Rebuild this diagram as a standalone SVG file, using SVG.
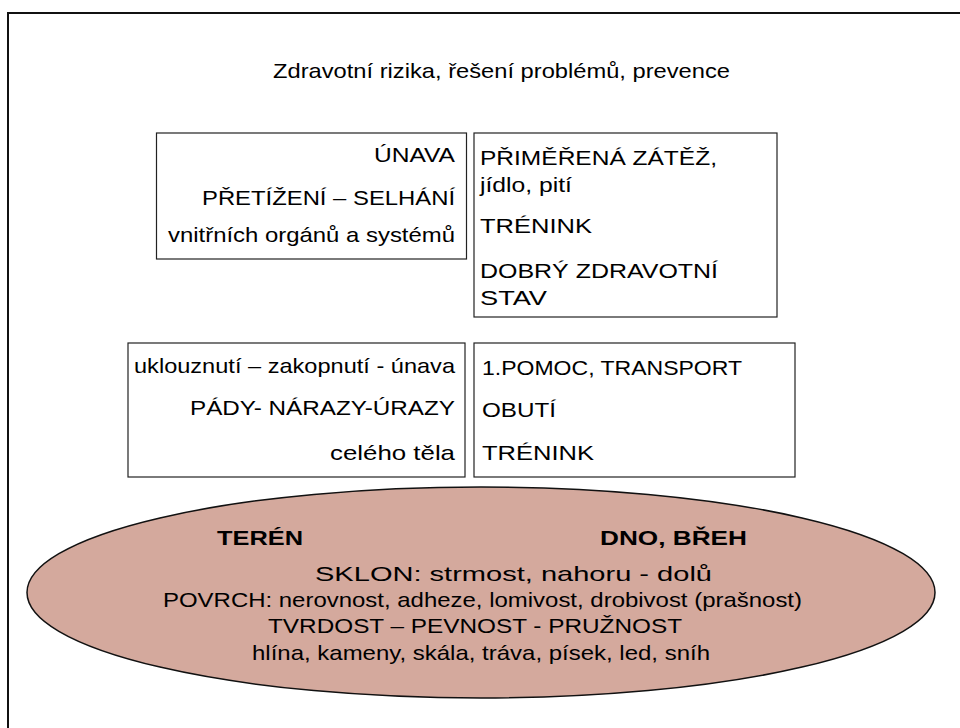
<svg xmlns="http://www.w3.org/2000/svg" width="960" height="728" viewBox="0 0 960 728">
  <style>
    text { font-family: "Liberation Sans", Arial, sans-serif; font-size: 21px; fill: #000; }
    .b { font-weight: bold; }
    .box { fill: #fff; stroke: #222; stroke-width: 1.2; }
    .frame { fill: none; stroke: #111; stroke-width: 2; }
  </style>
  <rect width="960" height="728" fill="#fff"/>
  <path class="frame" d="M8 728 V13 H960"/>

  <g id="title">
    <text x="273" y="78" textLength="457" lengthAdjust="spacingAndGlyphs">Zdravotní rizika, řešení problémů, prevence</text>
  </g>

  <g id="node-rizika-organy">
    <rect class="box" x="156.5" y="133" width="310" height="126"/>
    <text x="374" y="162" textLength="81" lengthAdjust="spacingAndGlyphs">ÚNAVA</text>
    <text x="202" y="205" textLength="253" lengthAdjust="spacingAndGlyphs">PŘETÍŽENÍ – SELHÁNÍ</text>
    <text x="168" y="242" textLength="287" lengthAdjust="spacingAndGlyphs">vnitřních orgánů a systémů</text>
  </g>

  <g id="node-prevence-organy">
    <rect class="box" x="474" y="133" width="303" height="184"/>
    <text x="480" y="165" textLength="237" lengthAdjust="spacingAndGlyphs">PŘIMĚŘENÁ ZÁTĚŽ,</text>
    <text x="480" y="192" textLength="92" lengthAdjust="spacingAndGlyphs">jídlo, pití</text>
    <text x="480" y="233" textLength="112" lengthAdjust="spacingAndGlyphs">TRÉNINK</text>
    <text x="480" y="278" textLength="238" lengthAdjust="spacingAndGlyphs">DOBRÝ ZDRAVOTNÍ</text>
    <text x="480" y="305" textLength="67" lengthAdjust="spacingAndGlyphs">STAV</text>
  </g>

  <g id="node-rizika-telo">
    <rect class="box" x="128" y="343" width="337" height="134"/>
    <text x="134" y="373" textLength="321" lengthAdjust="spacingAndGlyphs">uklouznutí – zakopnutí - únava</text>
    <text x="190" y="415" textLength="265" lengthAdjust="spacingAndGlyphs">PÁDY- NÁRAZY-ÚRAZY</text>
    <text x="330" y="460" textLength="125" lengthAdjust="spacingAndGlyphs">celého těla</text>
  </g>

  <g id="node-prevence-telo">
    <rect class="box" x="474" y="343" width="321" height="134"/>
    <text x="482" y="375" textLength="260" lengthAdjust="spacingAndGlyphs">1.POMOC, TRANSPORT</text>
    <text x="482" y="417" textLength="74" lengthAdjust="spacingAndGlyphs">OBUTÍ</text>
    <text x="482" y="460" textLength="112" lengthAdjust="spacingAndGlyphs">TRÉNINK</text>
  </g>

  <g id="node-teren">
    <ellipse cx="481" cy="592.5" rx="454" ry="105.5" fill="#D4A99D" stroke="#111" stroke-width="1.5"/>
    <text class="b" x="217" y="545" textLength="86" lengthAdjust="spacingAndGlyphs">TERÉN</text>
    <text class="b" x="600" y="545" textLength="147" lengthAdjust="spacingAndGlyphs">DNO, BŘEH</text>
    <text x="315" y="581" textLength="397" lengthAdjust="spacingAndGlyphs">SKLON: strmost, nahoru - dolů</text>
    <text x="163" y="607" textLength="639" lengthAdjust="spacingAndGlyphs">POVRCH: nerovnost, adheze, lomivost, drobivost (prašnost)</text>
    <text x="268" y="633" textLength="414" lengthAdjust="spacingAndGlyphs">TVRDOST – PEVNOST - PRUŽNOST</text>
    <text x="252" y="660" textLength="458" lengthAdjust="spacingAndGlyphs">hlína, kameny, skála, tráva, písek, led, sníh</text>
  </g>
</svg>
